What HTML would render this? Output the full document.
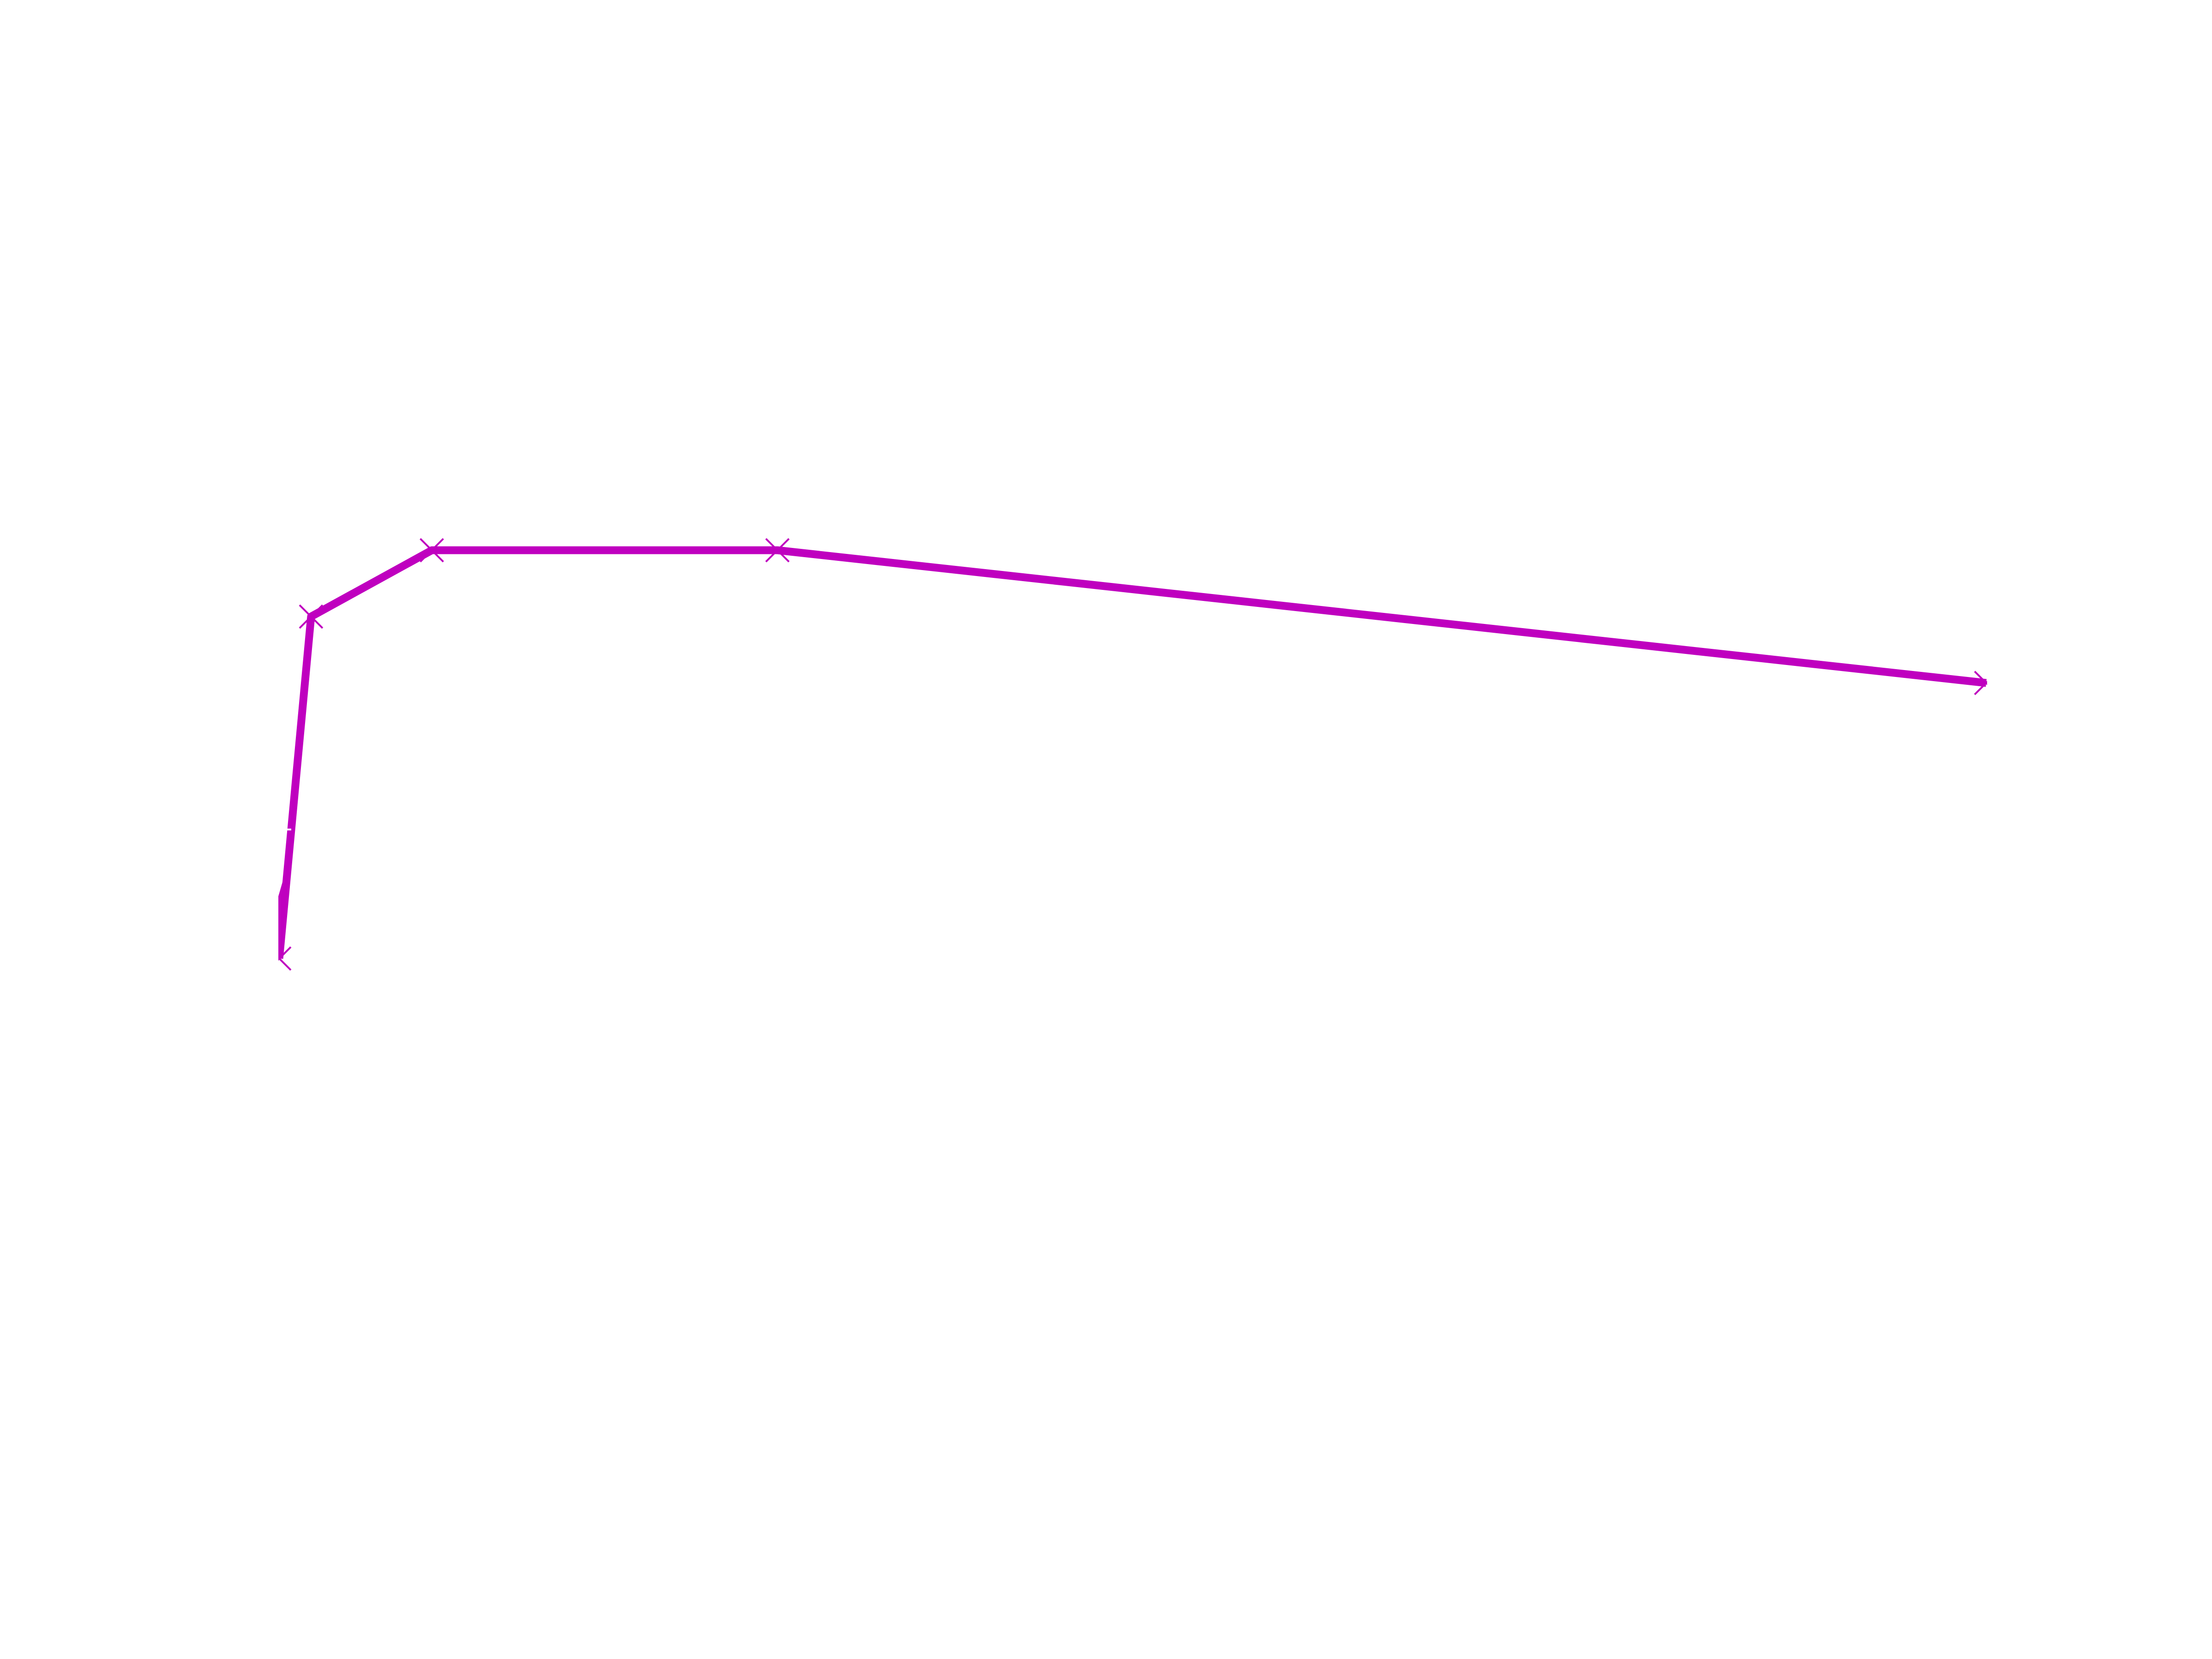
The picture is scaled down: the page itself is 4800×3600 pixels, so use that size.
<!DOCTYPE html>
<html><head><meta charset="utf-8"><style>html,body{margin:0;padding:0;background:#fff}svg{display:block}</style></head>
<body>
<svg width="4800" height="3600" viewBox="0 0 4800 3600" xmlns="http://www.w3.org/2000/svg">
<defs><clipPath id="c"><rect x="604" y="0" width="3708" height="3600"/></clipPath></defs>
<rect width="4800" height="3600" fill="#fff"/>
<g clip-path="url(#c)" stroke="#bf00bf" fill="none">
<polygon points="604,1945 604,2080 610,2080 628,1890 620,1890" fill="#bf00bf" stroke="none"/>
<polyline points="606,2080 675,1338 937,1194 1687,1194 4310,1482" stroke-width="17" stroke-linejoin="round"/>
<g stroke-width="4">
<path d="M581,2055 L631,2105 M581,2105 L631,2055"/>
<path d="M650,1313 L700,1363 M650,1363 L700,1313"/>
<path d="M912,1169 L962,1219 M912,1219 L962,1169"/>
<path d="M1662,1169 L1712,1219 M1662,1219 L1712,1169"/>
<path d="M4285,1457 L4335,1507 M4285,1507 L4335,1457"/>
</g>
</g>
<rect x="622" y="1798" width="10" height="4" fill="#fff"/>
</svg>
</body></html>
